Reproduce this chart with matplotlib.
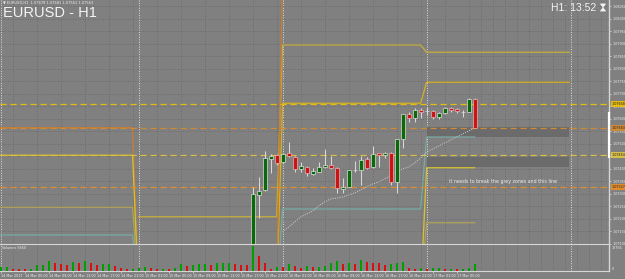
#!/usr/bin/env python3
"""EURUSD H1 chart (MetaTrader style) with pivot-like levels and volumes."""
import numpy as np
import matplotlib

matplotlib.use("Agg")
import matplotlib.pyplot as plt
from matplotlib.patches import Polygon
from matplotlib.transforms import blended_transform_factory

# --- data -------------------------------------------------------------------
# candles visible in the price window (bar index, open, high, low, close)
candle_idx = list(range(42, 80))
opens = [1.0668, 1.07294, 1.07314, 1.07437, 1.07455, 1.07426, 1.07462, 1.07447,
         1.07398, 1.07405, 1.07378, 1.07387, 1.07406, 1.07413, 1.07401, 1.07318,
         1.07327, 1.07394, 1.07394, 1.07437, 1.07405, 1.07461, 1.07455, 1.07461,
         1.07346, 1.07518, 1.07618, 1.07602, 1.07634, 1.07631, 1.07630, 1.07607,
         1.07621, 1.07643, 1.07638, 1.07627, 1.07627, 1.07678]
highs = [1.07326, 1.07366, 1.07470, 1.07458, 1.07458, 1.07462, 1.07506, 1.07450,
         1.07427, 1.07410, 1.07401, 1.07427, 1.07477, 1.07450, 1.07405, 1.07361,
         1.07394, 1.07431, 1.07450, 1.07447, 1.07490, 1.07463, 1.07467, 1.07467,
         1.07518, 1.07618, 1.07626, 1.07641, 1.07641, 1.07647, 1.07634, 1.07625,
         1.07647, 1.07647, 1.07641, 1.07634, 1.07681, 1.07681]
lows = [1.0664, 1.07202, 1.07310, 1.07382, 1.07414, 1.07421, 1.07446, 1.07387,
        1.07387, 1.07370, 1.07374, 1.07387, 1.07401, 1.07397, 1.07301, 1.07303,
        1.07325, 1.07387, 1.07334, 1.07397, 1.07401, 1.07405, 1.07441, 1.07334,
        1.07302, 1.07482, 1.07587, 1.07587, 1.07602, 1.07614, 1.07598, 1.07598,
        1.07617, 1.07627, 1.07621, 1.07607, 1.07627, 1.07561]
closes = [1.07298, 1.07310, 1.07442, 1.07451, 1.07421, 1.07458, 1.07450, 1.07398,
          1.07410, 1.07381, 1.07391, 1.07405, 1.07413, 1.07402, 1.07321, 1.07327,
          1.07393, 1.07395, 1.07434, 1.07403, 1.07458, 1.07455, 1.07461, 1.07346,
          1.07518, 1.07618, 1.07601, 1.07634, 1.07627, 1.07632, 1.07607, 1.07621,
          1.07643, 1.07634, 1.07630, 1.07627, 1.07678, 1.07563]

# tick volumes for all 80 bars (14 Mar 01:00 .. 17 Mar 08:00)
volumes = [1683, 1887, 1020, 867, 765, 1020, 2703, 2907, 4947, 3723,
           3417, 3060, 4233, 3723, 4947, 3927, 3060, 3213, 3315, 2397,
           1377, 663, 1020, 1377, 1887, 1173, 867, 918, 867, 1377,
           3417, 2550, 2703, 3417, 3468, 3060, 3723, 3774, 4080, 3417,
           3060, 3009, 12756, 7650, 4080, 867, 2040, 1887, 3417, 2397,
           1530, 2397, 1683, 1887, 2193, 4080, 4743, 3213, 3723, 3213,
           5253, 4233, 4080, 3723, 2703, 3213, 3723, 4233, 1377, 663,
           1173, 663, 1173, 1224, 663, 714, 663, 714, 1173, 3213]

time_labels = ["14 Mar 2017", "14 Mar 05:00", "14 Mar 09:00", "14 Mar 13:00",
               "14 Mar 17:00", "14 Mar 21:00", "15 Mar 01:00", "15 Mar 05:00",
               "15 Mar 09:00", "15 Mar 13:00", "15 Mar 17:00", "15 Mar 21:00",
               "16 Mar 01:00", "16 Mar 05:00", "16 Mar 09:00", "16 Mar 13:00",
               "16 Mar 17:00", "16 Mar 21:00", "17 Mar 01:00", "17 Mar 05:00"]

# first bar of each day (14, 15, 16, 17 Mar) and of the next one
day_starts = [0, 23, 47, 71, 95]

# daily indicator lines, one value per day (14..17 Mar), nan = not drawn
NAN = float("nan")
range_hi = [NAN, 1.07207, 1.07894, 1.07865]
range_lo = [NAN, 1.06900, 1.07661, 1.07745]
teal_line = [1.07134, 1.06900, 1.07238, 1.07526]
orange_line = [1.07563, 1.06900, 1.08200, 1.08200]
yellow_line = [1.07453, 1.06900, 1.06900, 1.07403]
olive_line = [1.07245, 1.06900, 1.06900, 1.07183]

# running average (dotted) from 16 Mar 00:00
avg_start = 47
avg_line = [1.07146, 1.07166, 1.07186, 1.07206, 1.07218, 1.07230, 1.07250,
            1.07266, 1.07278, 1.07282, 1.07286, 1.07294, 1.07302, 1.07314,
            1.07326, 1.07338, 1.07346, 1.07358, 1.07370, 1.07386, 1.07398,
            1.07406, 1.07422, 1.07442, 1.07466, 1.07478, 1.07490, 1.07502,
            1.07514, 1.07526, 1.07538, 1.07550, 1.07562]

# horizontal dashed levels
levels = [1.07658, 1.07563, 1.07454, 1.07327]
level_colors = ["#e2bc10", "#d08a34", "#d8c048", "#e08c2c"]

# grey zones (bottom, top) spanning 17 Mar
zones = [(1.07526, 1.07566), (1.07406, 1.07446)]
note = "it needs to break the grey zones and this line"
note_at = (74.8, 1.07347)

price_ticks = np.round(np.arange(1.0710, 1.08051, 0.0005), 5)
axis_bar = (1.07446, 1.07622)

# --- figure -----------------------------------------------------------------
BG = "#808080"
GRID = "#666666"
TXT = "#ececec"
W, H = 625, 279
SMALL = 2.4

fig = plt.figure(figsize=(W / 100, H / 100), dpi=100, facecolor=BG)
ax = fig.add_axes([0, (H - 243.5) / H, 609 / W, 243.5 / H], facecolor=BG)
axv = fig.add_axes([0, (H - 270.7) / H, 609 / W, 27.2 / H], facecolor=BG, sharex=ax)

xmin, xmax = -0.1, 101.4
ax.set_xlim(xmin, xmax)
ax.set_ylim(1.0710, 1.08074)
axv.set_ylim(0, 13870)

for a in (ax, axv):
    for s in a.spines.values():
        s.set_visible(False)
    a.spines["right"].set_visible(True)
    a.spines["right"].set_color("#d6d6d6")
    a.spines["right"].set_linewidth(1.0)
    a.set_xticks(np.arange(0, 101, 2), minor=True)
    a.grid(True, which="minor", axis="x", color=GRID, ls=(0, (1, 2)), lw=0.6)
    for d in day_starts:
        a.axvline(d, color="#dedede", ls=(0, (1, 1.5)), lw=0.7, zorder=1)
axv.spines["top"].set_visible(True)
axv.spines["top"].set_color("#d6d6d6")
axv.spines["bottom"].set_visible(True)
axv.spines["bottom"].set_color("#d6d6d6")

# price axis
ax.yaxis.tick_right()
ax.set_yticks(price_ticks)
ax.set_yticklabels([f"{v:.5f}" for v in price_ticks])
ax.tick_params(axis="y", length=1.5, width=0.5, color="#dddddd", labelsize=SMALL,
               labelcolor=TXT, pad=1.0)
ax.grid(True, axis="y", color=GRID, ls=(0, (1, 2)), lw=0.6)
ax.tick_params(axis="x", which="both", bottom=False, labelbottom=False)

# volume axis
axv.yaxis.tick_right()
axv.set_yticks([0, max(volumes)])
axv.set_yticklabels(["0", str(max(volumes))])
axv.tick_params(axis="y", length=0, labelsize=SMALL, labelcolor=TXT, pad=2)
vlabels = axv.get_yticklabels()
vlabels[0].set_verticalalignment("bottom")
vlabels[1].set_verticalalignment("top")
axv.set_xticks(range(0, 4 * len(time_labels), 4))
axv.set_xticklabels(time_labels)
axv.tick_params(axis="x", which="major", length=1.5, width=0.5, color="#dddddd",
                labelsize=SMALL, labelcolor=TXT, pad=0.8)
axv.tick_params(axis="x", which="minor", length=0)
for lbl in axv.get_xticklabels():
    lbl.set_horizontalalignment("left")

# daily step lines
def per_bar(values, last_bar):
    out = []
    for d, v in enumerate(values):
        end = day_starts[d + 1] if d < 3 else last_bar + 1
        out += [v] * (end - day_starts[d])
    return np.array(out)

for vals, col, last in [(range_hi, "#c6ae3c", 94.8), (range_lo, "#d6b222", 94.8),
                        (teal_line, "#78aaa2", 79), (orange_line, "#cc7e2c", 79),
                        (yellow_line, "#d8c230", 79), (olive_line, "#b0a45a", 79)]:
    ys = per_bar(vals, int(last))
    xs = np.arange(len(ys), dtype=float)
    if last > 79:
        xs[-1] = last
    ax.plot(xs, ys, color=col, lw=0.9, zorder=3, solid_joinstyle="miter")

# dashed levels
for lv, col in zip(levels, level_colors):
    ax.axhline(lv, color=col, lw=0.9, ls=(0, (5, 3)), zorder=3)

# grey zones
for lo, hi in zones:
    ax.fill_between([day_starts[3], 94.8], lo, hi, color="#6b6b6b", lw=0, zorder=2)

# dotted average
ax.plot(range(avg_start, avg_start + len(avg_line)), avg_line, color="#d2d2d2",
        lw=0.7, ls=(0, (1, 1.4)), zorder=4)

# candles
for i, o, h, l, c in zip(candle_idx, opens, highs, lows, closes):
    bull = c >= o
    ax.vlines(i, l, h, color="#d8d8d8", lw=0.75, zorder=5)
    ax.bar(i, abs(c - o), bottom=min(o, c), width=0.68,
           color="#0a6a0a" if bull else "#c81616",
           edgecolor="#dcdcdc" if bull else "#e8b0b0", lw=0.5, zorder=6)

# volumes
vcols = ["#00a000" if k == 0 or v > volumes[k - 1] else "#d81010"
         for k, v in enumerate(volumes)]
axv.bar(range(len(volumes)), volumes, width=0.36, color=vcols, zorder=3)
axv.text(0.004, 0.92, "Volumes 5660", transform=axv.transAxes, fontsize=SMALL,
         color=TXT, va="top", ha="left")

# annotation
ax.text(note_at[0], note_at[1], note, fontsize=3.4, color="#f0f0f0",
        va="center", ha="left", zorder=7)

# coloured price labels on the axis
tr = blended_transform_factory(ax.transAxes, ax.transData)
for lv, col in zip(levels, level_colors):
    ax.text(1.004, lv, f"{lv:.5f}", transform=tr, fontsize=SMALL, color="#202020",
            va="center", ha="left", clip_on=False, zorder=8,
            bbox=dict(facecolor=col, edgecolor="none", pad=0.6))
ax.plot([1.0, 1.0], axis_bar, transform=tr, color="white", lw=1.6,
        clip_on=False, zorder=8)

# header texts
fig.text(3 / W, 1 - 0.8 / H, "\u25bc EURUSD,H1  1.07678 1.07681 1.07561 1.07563",
         fontsize=2.6, color=TXT, va="top", ha="left")
fig.text(3 / W, 1 - 6 / H, "EURUSD - H1", fontsize=10.5, color="#f4f4f4",
         va="top", ha="left", family="Liberation Sans")
fig.text(596 / W, 1 - 3 / H, "H1: 13:52", fontsize=7.5, color="#f4f4f4",
         va="top", ha="right", family="Liberation Sans")

# hourglass icon (no installed font has the glyph)
hx, hy = 603 / W, 1 - 7.5 / H
dx, dy = 2.6 / W, 3.6 / H
for sgn in (1, -1):
    fig.add_artist(Polygon([(hx - dx, hy + sgn * dy), (hx + dx, hy + sgn * dy), (hx, hy)],
                           closed=True, facecolor="#f4f4f4", edgecolor="#f4f4f4",
                           lw=0.4, transform=fig.transFigure))

fig.savefig("out.png", dpi=100, facecolor=BG)
plt.close(fig)
